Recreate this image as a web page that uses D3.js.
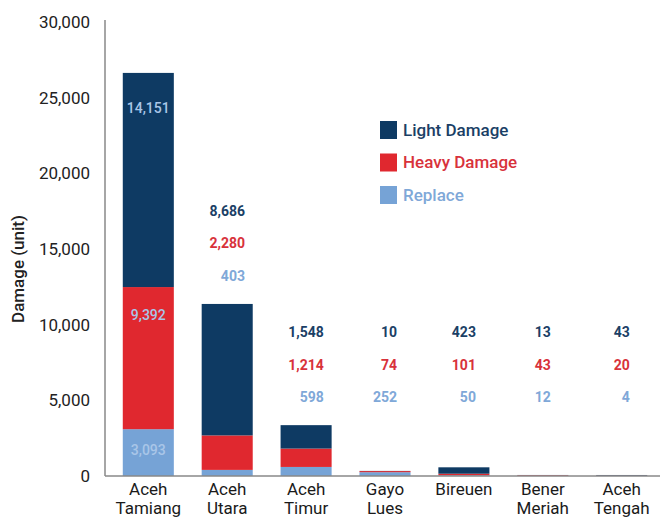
<!DOCTYPE html>
<html>
<head>
<meta charset="utf-8">
<script src="https://cdn.jsdelivr.net/npm/d3@7"></script>
<style>
  body { margin: 0; background: #fff; }
  svg text { font-family: Roboto, "Noto Sans", sans-serif; }
</style>
</head>
<body>
<svg width="660" height="521"></svg>
<script>
// chart values
const regions = ['Aceh Tamiang', 'Aceh Utara', 'Aceh Timur', 'Gayo Lues', 'Bireuen', 'Bener Meriah', 'Aceh Tengah'];
const replace = [3093, 403, 598, 252, 50, 12, 4];
const heavyDamage = [9392, 2280, 1214, 74, 101, 43, 20];
const lightDamage = [14151, 8686, 1548, 10, 423, 13, 43];
const seriesNames = ['Replace', 'Heavy Damage', 'Light Damage'];
const yTicks = [0, 5000, 10000, 15000, 20000, 25000, 30000];
const insideLabelRegion = 'Aceh Tamiang';
const labelFloorRegion = 'Aceh Timur';

const svg = d3.select('svg');
const width = +svg.attr('width');
const height = +svg.attr('height');

const colors = { 'Replace': '#76a3d6', 'Heavy Damage': '#e0282f', 'Light Damage': '#0e3a63' };
const labelColors = { 'Replace': '#7fa8d8', 'Heavy Damage': '#d8323b', 'Light Damage': '#1b3f66' };
// how far below a segment's top its inside label sits
const insideOffset = { 'Replace': 21, 'Heavy Damage': 28, 'Light Damage': 35 };

const data = regions.map((r, i) => ({
  region: r,
  'Replace': replace[i],
  'Heavy Damage': heavyDamage[i],
  'Light Damage': lightDamage[i]
}));

const xScale = d3.scaleBand()
  .domain(regions)
  .range([107, 663])
  .paddingInner(0.353)
  .paddingOuter(0.2);

const yScale = d3.scaleLinear()
  .domain([0, 30000])
  .range([476, 22]);

const stack = d3.stack().keys(seriesNames);
const stacked = stack(data);

// bars
svg.append('g')
  .selectAll('g')
  .data(stacked)
  .join('g')
    .attr('fill', d => colors[d.key])
  .selectAll('rect')
  .data(d => d)
  .join('rect')
    .attr('x', d => xScale(d.data.region))
    .attr('width', xScale.bandwidth())
    .attr('y', d => yScale(d[1]))
    .attr('height', d => yScale(d[0]) - yScale(d[1]));

// axes
const yAxis = d3.axisLeft(yScale)
  .tickValues(yTicks)
  .tickFormat(d3.format(','))
  .tickSize(0)
  .tickPadding(15);

const yAxisGroup = svg.append('g')
  .attr('transform', 'translate(105, 0)')
  .call(yAxis);
yAxisGroup.select('.domain').remove();
yAxisGroup.selectAll('text')
  .attr('font-size', 17)
  .attr('fill', '#222');

svg.append('line')
  .attr('x1', 105).attr('x2', 105)
  .attr('y1', 20).attr('y2', 476)
  .attr('stroke', '#888').attr('stroke-width', 1.5);
svg.append('line')
  .attr('x1', 105).attr('x2', width)
  .attr('y1', 476).attr('y2', 476)
  .attr('stroke', '#888').attr('stroke-width', 1.5);

svg.append('text')
  .attr('transform', `translate(24, 269) rotate(-90)`)
  .attr('text-anchor', 'middle')
  .attr('font-size', 17)
  .attr('font-weight', 500)
  .attr('fill', '#222')
  .text('Damage (unit)');

// category labels, two lines
const xLabels = svg.append('g')
  .selectAll('text')
  .data(regions)
  .join('text')
    .attr('text-anchor', 'middle')
    .attr('font-size', 17)
    .attr('fill', '#1a1a1a')
    .attr('x', d => xScale(d) + xScale.bandwidth() / 2)
    .attr('y', 495);
xLabels.each(function(d) {
  const words = d.split(' ');
  const t = d3.select(this);
  words.forEach((w, i) => {
    t.append('tspan')
      .attr('x', xScale(d) + xScale.bandwidth() / 2)
      .attr('dy', i === 0 ? 0 : 19)
      .text(w);
  });
});

// value labels
const fmt = d3.format(',');
const floorTotal = data.find(d => d.region === labelFloorRegion);
const floorY = yScale(d3.sum(seriesNames, k => floorTotal[k]));

data.forEach(d => {
  const cx = xScale(d.region) + xScale.bandwidth() / 2;
  if (d.region === insideLabelRegion) {
    let base = 0;
    seriesNames.forEach(k => {
      const top = yScale(base + d[k]);
      base += d[k];
      svg.append('text')
        .attr('x', cx)
        .attr('y', top + insideOffset[k])
        .attr('dy', '0.35em')
        .attr('text-anchor', 'middle')
        .attr('font-size', 14)
        .attr('font-weight', 500)
        .attr('fill', '#a9c6e8')
        .text(fmt(d[k]));
    });
  } else {
    const total = d3.sum(seriesNames, k => d[k]);
    const baseY = Math.min(yScale(total), floorY) - 28;
    const g = svg.append('g');
    seriesNames.forEach((k, i) => {
      g.append('text')
        .attr('x', cx)
        .attr('y', baseY - i * 32.5)
        .attr('dy', '0.35em')
        .attr('text-anchor', 'end')
        .attr('font-size', 14)
        .attr('font-weight', 700)
        .attr('fill', labelColors[k])
        .text(fmt(d[k]));
    });
    // right-align the column so the widest label sits centred on the bar
    let maxW = 0;
    g.selectAll('text').each(function() { maxW = Math.max(maxW, this.getComputedTextLength()); });
    g.attr('transform', `translate(${maxW / 2}, 0)`);
  }
});

// legend
const legendKeys = ['Light Damage', 'Heavy Damage', 'Replace'];
const legend = svg.append('g')
  .attr('transform', 'translate(380, 121)');
const items = legend.selectAll('g')
  .data(legendKeys)
  .join('g')
    .attr('transform', (d, i) => `translate(0, ${i * 32.5})`);
items.append('rect')
  .attr('width', 17).attr('height', 18)
  .attr('fill', d => colors[d]);
items.append('text')
  .attr('x', 23).attr('y', 9)
  .attr('dy', '0.35em')
  .attr('font-size', 17)
  .attr('font-weight', 500)
  .attr('fill', d => labelColors[d])
  .text(d => d);
</script>
</body>
</html>
